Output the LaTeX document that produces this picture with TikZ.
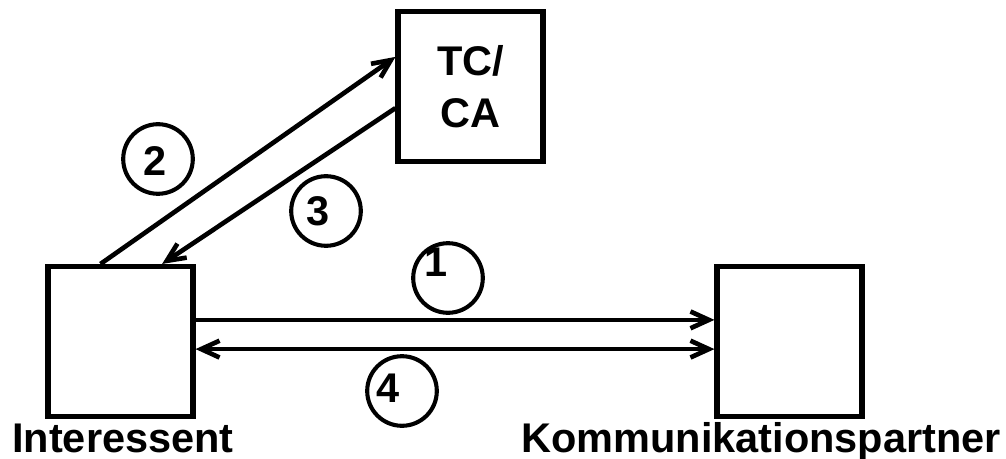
\documentclass[tikz,border=0pt]{standalone}
\usepackage{fontspec}
\setmainfont{Liberation Sans}
\usetikzlibrary{arrows.meta}

\begin{document}
\begin{tikzpicture}[x=0.025cm,y=-0.025cm,
    >={Straight Barb[length=4.6mm,width=4.2mm]},
    box/.style={draw,line width=3.6pt,minimum width=3.625cm,minimum height=3.75cm,inner sep=0pt},
    num/.style={draw,circle,line width=2.9pt,minimum size=1.74cm,inner sep=0pt},
    bigtext/.style={font=\fontsize{29.5}{37}\selectfont\bfseries,inner sep=0pt},
    link/.style={line width=3.3pt}]
  \useasboundingbox (0,0) rectangle (1006,459);
  % parties
  \node[box] (interessent) at (120.5,341.5) {};
  \node[box] (partner) at (789.5,341.5) {};
  \node[box,bigtext,align=center] (tcca) at (470.5,86.5) {TC/\\CA};
  \node[bigtext,anchor=base west] (lblint) at (12,452) {Interessent};
  \node[bigtext,anchor=base west] (lblpart) at (521,452) {Kommunikationspartner};
  % steps
  \node[num] (c1) at (448,278) {};
  \node[bigtext] (d1) at (436,262) {1};
  \node[num] (c2) at (158,159) {};
  \node[bigtext] (d2) at (155,161) {2};
  \node[num] (c3) at (326,211) {};
  \node[bigtext] (d3) at (318,211) {3};
  \node[num] (c4) at (402,391) {};
  \node[bigtext] (d4) at (388,388) {4};
  % messages
  \draw[link,->] ([xshift=-0.5cm]interessent.north) -- ([yshift=0.74cm]tcca.west);
  \draw[link,->] ([yshift=-0.54cm]tcca.west) -- ([xshift=1.04cm]interessent.north);
  \draw[link,->] ([yshift=0.54cm]interessent.east) -- ([yshift=0.54cm]partner.west);
  \draw[link,<->] ([yshift=-0.19cm]interessent.east) -- ([yshift=-0.19cm]partner.west);
\end{tikzpicture}
\end{document}
